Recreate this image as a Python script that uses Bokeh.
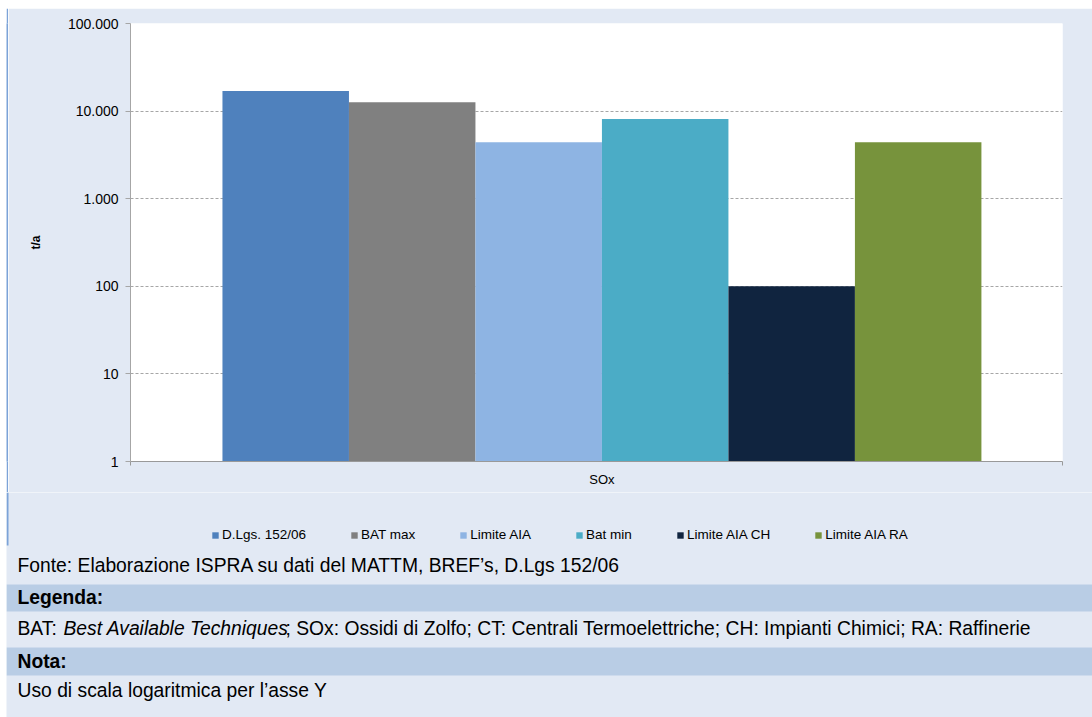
from bokeh.plotting import figure
from bokeh.layouts import column, row
from bokeh.models import Range1d, FixedTicker, Legend
from bokeh.core.properties import value
from bokeh.embed import file_html
from bokeh.resources import INLINE

# ---- data ----
categories = ["D.Lgs. 152/06", "BAT max", "Limite AIA", "Bat min", "Limite AIA CH", "Limite AIA RA"]
values = [17000, 12600, 4400, 8100, 100, 4400]
colors = ["#4f81bd", "#808080", "#8eb4e3", "#4bacc6", "#10243f", "#77933c"]
group_label = "SOx"
y_ticks = [1, 10, 100, 1000, 10000, 100000]
y_tick_labels = ["1", "10", "100", "1.000", "10.000", "100.000"]
y_title = "t/a"

fonte = "Fonte:  Elaborazione ISPRA su dati del MATTM, BREF\u2019s, D.Lgs 152/06"
legenda_title = "Legenda:"
legenda_parts = ["BAT: ", "Best Available Techniques",
                 "; SOx: Ossidi di Zolfo; CT: Centrali Termoelettriche; CH: Impianti Chimici; RA: Raffinerie"]
nota_title = "Nota:"
nota_text = "Uso di scala logaritmica per l\u2019asse Y"

BG = "#e2e9f4"
BAND = "#b9cde5"
BORDER = "#7ca3d8"
FONT = "Liberation Sans"

W = 1092
H = 717
TOPW = 6      # white strip above
LEFTW = 6     # white strip at left
BW = 2        # blue border width
Y1 = 492      # page y where chart figure ends


def strip(w, h, color):
    s = figure(width=w, height=h, output_backend="svg", toolbar_location=None,
               min_border=0, x_range=(0, 1), y_range=(0, 1))
    s.axis.visible = False
    s.grid.visible = False
    s.outline_line_color = None
    s.background_fill_color = color
    s.border_fill_color = color
    return s


top_white = strip(W, TOPW, "white")
left_white = strip(LEFTW, H - TOPW, "white")
top_blue = strip(W - LEFTW, BW, BORDER)
H1 = Y1 - TOPW - BW
left_blue = strip(BW, H1, BORDER)

# ---- chart ----
n = len(categories)
x0 = -0.727
x1 = 6.641
PW = W - LEFTW - BW
p = figure(width=PW, height=H1, output_backend="svg", toolbar_location=None,
           y_axis_type="log", x_range=Range1d(x0, x1), y_range=Range1d(1, 100000),
           min_border_left=130 - (LEFTW + BW), min_border_right=W - 1062,
           min_border_top=23 - (TOPW + BW), min_border_bottom=Y1 - 461)
p.background_fill_color = "white"
p.border_fill_color = BG
p.outline_line_color = None

for i, (c, v, col) in enumerate(zip(categories, values, colors)):
    p.vbar(x=[i + 0.5], width=1.0, bottom=1, top=[v], fill_color=col, line_color=None)

p.xgrid.visible = False
p.ygrid.ticker = FixedTicker(ticks=y_ticks, minor_ticks=[])
p.ygrid.grid_line_color = "#a6a6a6"
p.ygrid.grid_line_dash = "3 2"
p.ygrid.grid_line_width = 1

p.yaxis.ticker = FixedTicker(ticks=y_ticks, minor_ticks=[])
p.yaxis.major_label_overrides = {t: l for t, l in zip(y_ticks, y_tick_labels)}
p.yaxis.axis_line_color = "#a6a6a6"
p.yaxis.major_tick_line_color = "#a6a6a6"
p.yaxis.major_tick_out = 5
p.yaxis.major_tick_in = 0
p.yaxis.major_label_standoff = 7
p.yaxis.major_label_text_font = FONT
p.yaxis.major_label_text_font_size = "14px"
p.yaxis.major_label_text_color = "#000000"
p.yaxis.axis_label = y_title
p.yaxis.axis_label_text_font = FONT
p.yaxis.axis_label_text_font_style = "bold"
p.yaxis.axis_label_text_font_size = "12px"
p.yaxis.axis_label_text_color = "#000000"
p.yaxis.axis_label_standoff = 22

p.xaxis.ticker = FixedTicker(ticks=[n / 2.0], minor_ticks=[x0 + 0.002, x1 - 0.002])
p.xaxis.major_label_overrides = {n / 2.0: group_label}
p.xaxis.axis_line_color = "#999999"
p.xaxis.major_tick_line_color = None
p.xaxis.major_tick_out = 4
p.xaxis.major_tick_in = 0
p.xaxis.minor_tick_line_color = "#999999"
p.xaxis.minor_tick_out = 4
p.xaxis.minor_tick_in = 0
p.xaxis.major_label_standoff = 6
p.xaxis.major_label_text_font = FONT
p.xaxis.major_label_text_font_size = "13px"
p.xaxis.major_label_text_color = "#000000"

# ---- legend + notes table figure ----
TW = W - LEFTW
H2 = H - Y1
t = figure(width=TW, height=H2, output_backend="svg", toolbar_location=None,
           x_range=Range1d(0, TW), y_range=Range1d(H2, 0), min_border=0)
t.axis.visible = False
t.grid.visible = False
t.outline_line_color = None
t.background_fill_color = BG
t.border_fill_color = BG

# row bands (page y): Legenda 584-611, Nota 647-675
band_top = [584 - Y1, 647 - Y1]
band_bot = [611 - Y1, 675 - Y1]
t.quad(left=[0, 0], right=[TW, TW], top=band_top, bottom=band_bot,
       fill_color=BAND, line_color=None)
# continuation of the blue left border of the chart panel
t.quad(left=[0], right=[BW], top=[0], bottom=[545 - Y1], fill_color=BORDER, line_color=None)

# legend (proxy renderers, hidden, carrying the series colours)
items = []
for i, (c, v, col) in enumerate(zip(categories, values, colors)):
    r = t.vbar(x=[i + 0.5], width=1.0, bottom=1, top=[v], fill_color=col, line_color=None,
               visible=False)
    items.append((c, [r]))
legend = Legend(items=items, orientation="horizontal",
                location=(211 - LEFTW, H - 542),
                padding=0, margin=0, spacing=44, label_standoff=3,
                glyph_width=8, glyph_height=8, label_height=14,
                label_text_font=FONT, label_text_font_size="13.5px",
                label_text_color="#000000", inactive_fill_alpha=0,
                background_fill_alpha=0, border_line_color=None)
t.add_layout(legend, "center")

tx = 17 - LEFTW
ys = [565 - Y1, 597 - Y1, 628 - Y1, 661 - Y1, 690 - Y1]
common = dict(text_font=value(FONT), text_font_size="19.3px", text_baseline="middle",
              text_align="left", text_color="#000000")
t.text(x=[tx], y=[ys[0]], text=[fonte], **common)
t.text(x=[tx], y=[ys[1]], text=[legenda_title], text_font_style="bold", **common)
t.text(x=[tx], y=[ys[2]], text=[legenda_parts[0]], **common)
t.text(x=[tx + 46], y=[ys[2]], text=[legenda_parts[1]], text_font_style="italic", **common)
t.text(x=[tx + 46 + 222], y=[ys[2]], text=[legenda_parts[2]], **common)
t.text(x=[tx], y=[ys[3]], text=[nota_title], text_font_style="bold", **common)
t.text(x=[tx], y=[ys[4]], text=[nota_text], **common)

right_col = column(top_blue, row(left_blue, p, spacing=0), t, spacing=0)
layout = column(top_white, row(left_white, right_col, spacing=0), spacing=0)
open("out.html", "w").write(file_html(layout, INLINE))
